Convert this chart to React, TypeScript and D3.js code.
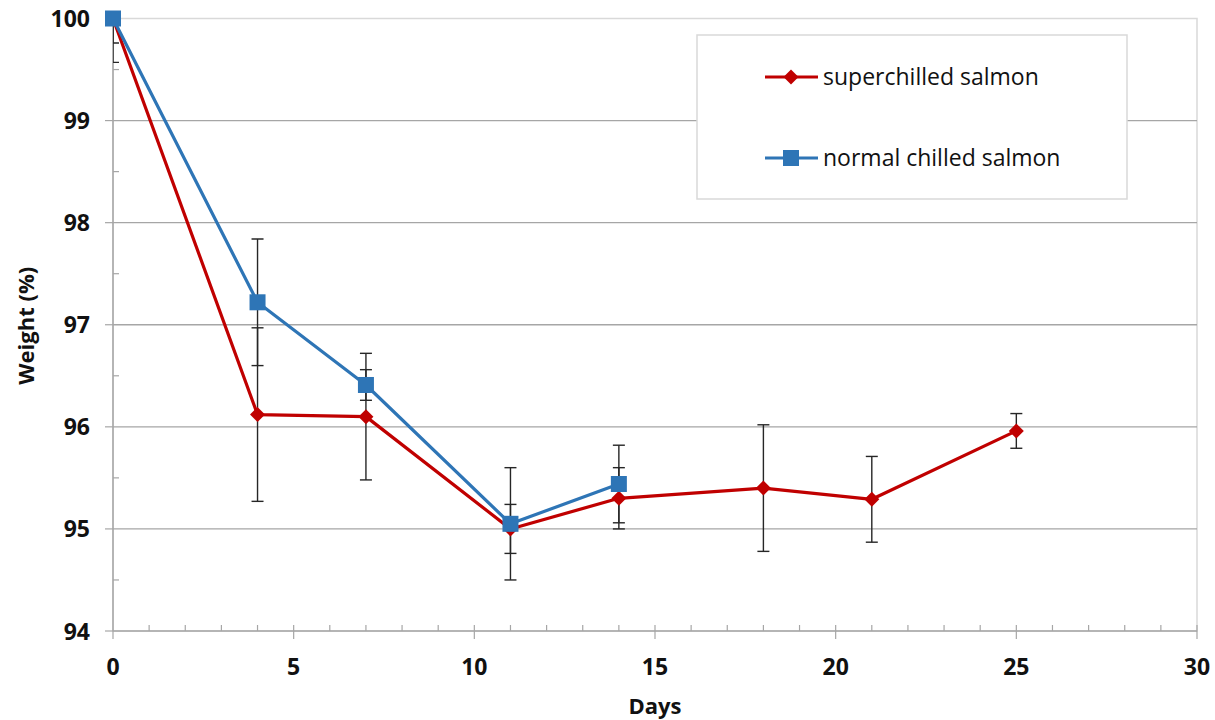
import { useEffect, useRef } from 'react'
import * as d3 from 'd3'

// superchilled salmon
const superDays   = [0, 4, 7, 11, 14, 18, 21, 25]
const superWeight = [100, 96.12, 96.10, 95.0, 95.30, 95.40, 95.29, 95.96]
const superErr    = [0.43, 0.85, 0.62, 0.24, 0.30, 0.62, 0.42, 0.17]

// normal chilled salmon
const normalDays   = [0, 4, 7, 11, 14]
const normalWeight = [100, 97.22, 96.41, 95.05, 95.44]
const normalErr    = [0.24, 0.62, 0.15, 0.55, 0.38]

const xTicks = [0, 5, 10, 15, 20, 25, 30]
const yTicks = [94, 95, 96, 97, 98, 99, 100]

const RED  = '#C00000'
const BLUE = '#2E75B6'
const FONT = '"Open Sans", "Noto Sans", sans-serif'

type Pt = { x: number; y: number; e: number }

export default function App() {
  const svgRef = useRef<SVGSVGElement>(null)

  useEffect(() => {
    if (!svgRef.current) return
    const svg = d3.select(svgRef.current)
    svg.selectAll('*').remove()

    const W = 1215, H = 720
    const left = 113, right = 1197, top = 18.5, bottom = 631
    svg.attr('width', W).attr('height', H)

    const x = d3.scaleLinear().domain([0, 30]).range([left, right])
    const y = d3.scaleLinear().domain([94, 100]).range([bottom, top])

    const superPts: Pt[]  = superDays.map((d, i) => ({ x: d, y: superWeight[i], e: superErr[i] }))
    const normalPts: Pt[] = normalDays.map((d, i) => ({ x: d, y: normalWeight[i], e: normalErr[i] }))

    svg.append('defs').append('clipPath').attr('id', 'plot-clip')
      .append('rect').attr('x', left).attr('y', top).attr('width', right - left).attr('height', bottom - top)

    // plot border
    svg.append('rect')
      .attr('x', left).attr('y', top).attr('width', right - left).attr('height', bottom - top)
      .attr('fill', '#fff').attr('stroke', '#d9d9d9').attr('stroke-width', 1.5)

    // gridlines
    svg.append('g')
      .selectAll('line')
      .data(yTicks.filter(t => t > 94 && t < 100))
      .join('line')
      .attr('x1', left).attr('x2', right)
      .attr('y1', d => y(d)).attr('y2', d => y(d))
      .attr('stroke', '#a6a6a6').attr('stroke-width', 1.3)

    // axes
    const axisCol = '#a6a6a6'
    const gx = svg.append('g')
    gx.append('line').attr('x1', left).attr('x2', right).attr('y1', bottom).attr('y2', bottom)
      .attr('stroke', axisCol).attr('stroke-width', 1.5)
    gx.selectAll('line.minor')
      .data(d3.range(1, 30).filter(d => d % 5 !== 0))
      .join('line').attr('class', 'minor')
      .attr('x1', d => x(d)).attr('x2', d => x(d)).attr('y1', bottom - 6).attr('y2', bottom)
      .attr('stroke', axisCol).attr('stroke-width', 1.2)
    gx.selectAll('line.major')
      .data(xTicks)
      .join('line').attr('class', 'major')
      .attr('x1', d => x(d)).attr('x2', d => x(d)).attr('y1', d => d === 0 ? bottom : bottom - 6).attr('y2', bottom + 8)
      .attr('stroke', axisCol).attr('stroke-width', 1.2)
    gx.selectAll('text')
      .data(xTicks)
      .join('text')
      .attr('x', d => x(d)).attr('y', 675)
      .attr('text-anchor', 'middle')
      .attr('font-family', FONT).attr('font-weight', 700).attr('font-size', 23).attr('fill', '#111')
      .text(d => d)

    const gy = svg.append('g')
    gy.append('line').attr('x1', left).attr('x2', left).attr('y1', top).attr('y2', bottom)
      .attr('stroke', axisCol).attr('stroke-width', 1.5)
    gy.selectAll('line.minor')
      .data(d3.range(94.5, 100, 1))
      .join('line').attr('class', 'minor')
      .attr('x1', left).attr('x2', left + 6).attr('y1', d => y(d)).attr('y2', d => y(d))
      .attr('stroke', axisCol).attr('stroke-width', 1.2)
    gy.selectAll('line.major')
      .data(yTicks)
      .join('line').attr('class', 'major')
      .attr('x1', left - 8).attr('x2', left).attr('y1', d => y(d)).attr('y2', d => y(d))
      .attr('stroke', axisCol).attr('stroke-width', 1.2)
    gy.selectAll('text')
      .data(yTicks)
      .join('text')
      .attr('x', 90).attr('y', d => y(d) + 8.5)
      .attr('text-anchor', 'end')
      .attr('font-family', FONT).attr('font-weight', 700).attr('font-size', 23).attr('fill', '#111')
      .text(d => d)

    // axis titles
    svg.append('text')
      .attr('x', (left + right) / 2).attr('y', 714)
      .attr('text-anchor', 'middle')
      .attr('font-family', FONT).attr('font-weight', 700).attr('font-size', 22).attr('fill', '#111')
      .text('Days')
    svg.append('text')
      .attr('transform', `translate(34,${(top + bottom) / 2 + 1}) rotate(-90)`)
      .attr('text-anchor', 'middle')
      .attr('font-family', FONT).attr('font-weight', 700).attr('font-size', 22).attr('fill', '#111')
      .text('Weight (%)')

    // error bars (clipped to plot area)
    const errG = svg.append('g').attr('clip-path', 'url(#plot-clip)')
    const drawErr = (pts: Pt[]) => {
      const g = errG.append('g').attr('stroke', '#262626').attr('stroke-width', 1.4)
      pts.forEach(p => {
        const cx = x(p.x), y0 = y(p.y + p.e), y1 = y(p.y - p.e)
        g.append('line').attr('x1', cx).attr('x2', cx).attr('y1', y0).attr('y2', y1)
        g.append('line').attr('x1', cx - 6).attr('x2', cx + 6).attr('y1', y0).attr('y2', y0)
        g.append('line').attr('x1', cx - 6).attr('x2', cx + 6).attr('y1', y1).attr('y2', y1)
      })
    }
    drawErr(superPts)
    drawErr(normalPts)

    const line = d3.line<Pt>().x(d => x(d.x)).y(d => y(d.y))
    const diamond = (s: number) => `M0,${-s}L${s},0L0,${s}L${-s},0Z`

    // superchilled
    svg.append('path').datum(superPts)
      .attr('d', line).attr('fill', 'none').attr('stroke', RED).attr('stroke-width', 3.2)
      .attr('stroke-linejoin', 'round')
    svg.append('g').selectAll('path')
      .data(superPts)
      .join('path')
      .attr('transform', d => `translate(${x(d.x)},${y(d.y)})`)
      .attr('d', diamond(7.5)).attr('fill', RED)

    // normal chilled
    svg.append('path').datum(normalPts)
      .attr('d', line).attr('fill', 'none').attr('stroke', BLUE).attr('stroke-width', 3.2)
      .attr('stroke-linejoin', 'round')
    svg.append('g').selectAll('rect')
      .data(normalPts)
      .join('rect')
      .attr('x', d => x(d.x) - 8).attr('y', d => y(d.y) - 8)
      .attr('width', 16).attr('height', 16).attr('fill', BLUE)

    // legend
    const lg = svg.append('g')
    lg.append('rect').attr('x', 697).attr('y', 35).attr('width', 430).attr('height', 164)
      .attr('fill', '#fff').attr('stroke', '#d9d9d9').attr('stroke-width', 1.5)
    const items = [
      { label: 'superchilled salmon', color: RED, kind: 'diamond', ly: 77 },
      { label: 'normal chilled salmon', color: BLUE, kind: 'square', ly: 158 },
    ]
    items.forEach(it => {
      lg.append('line').attr('x1', 765).attr('x2', 818).attr('y1', it.ly).attr('y2', it.ly)
        .attr('stroke', it.color).attr('stroke-width', 3.2)
      if (it.kind === 'diamond') {
        lg.append('path').attr('transform', `translate(791,${it.ly})`).attr('d', diamond(7.5)).attr('fill', it.color)
      } else {
        lg.append('rect').attr('x', 783).attr('y', it.ly - 8).attr('width', 16).attr('height', 16).attr('fill', it.color)
      }
      lg.append('text').attr('x', 823).attr('y', it.ly + 8)
        .attr('font-family', FONT).attr('font-size', 23).attr('fill', '#111')
        .text(it.label)
    })
  }, [])

  return (
    <div style={{ position: 'absolute', left: 0, top: 0, width: 1215, height: 720, background: '#fff' }}>
      <svg ref={svgRef} style={{ display: 'block' }} />
    </div>
  )
}
